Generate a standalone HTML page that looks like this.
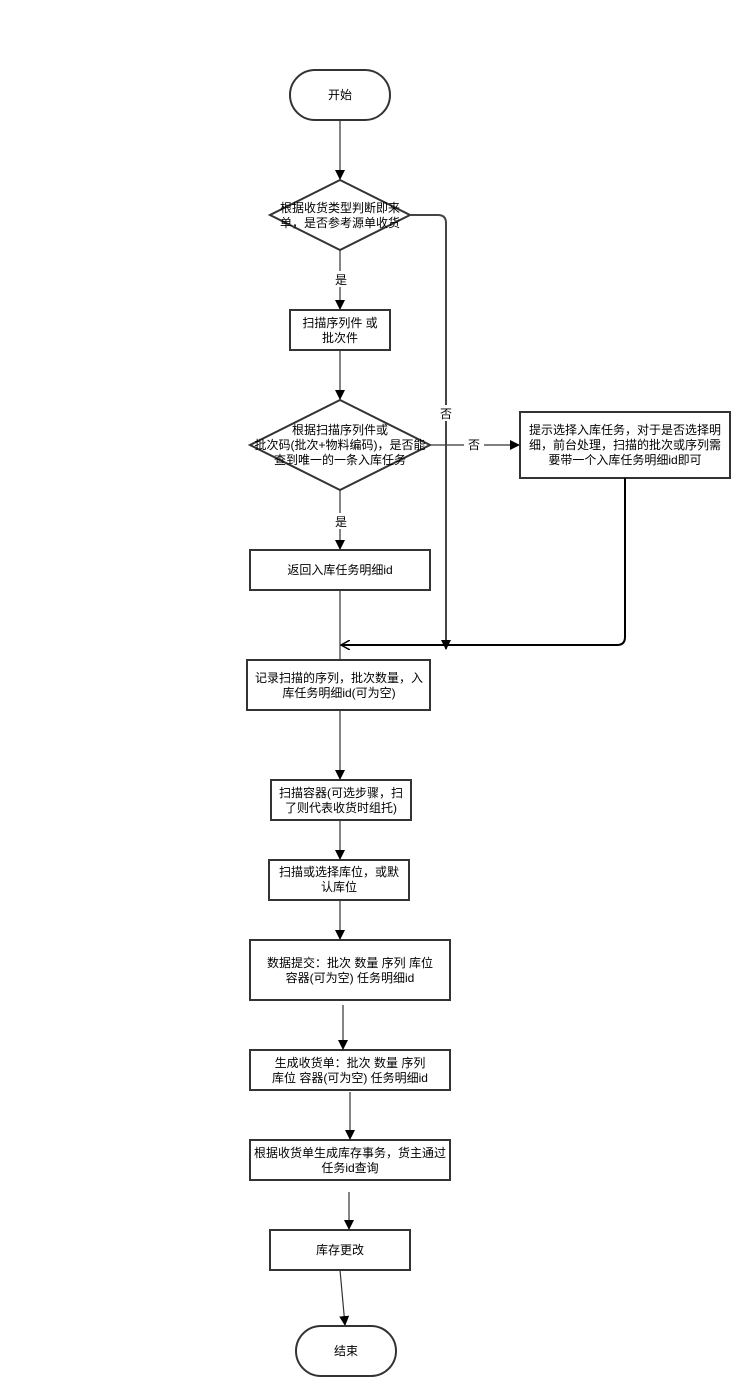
<!DOCTYPE html>
<html><head><meta charset="utf-8"><style>
html,body{margin:0;padding:0;background:#fff;}
svg{display:block;}
text{font-family:"Liberation Sans","Noto Sans CJK SC",sans-serif;font-size:12px;fill:#000;}
</style></head><body>
<svg width="750" height="1396" viewBox="0 0 750 1396" xmlns="http://www.w3.org/2000/svg">
<defs>
<marker id="a" markerWidth="10" markerHeight="10" refX="9" refY="5" orient="auto" markerUnits="userSpaceOnUse"><path d="M0,0 L10,5 L0,10 z" fill="#000"/></marker>
<marker id="o" markerWidth="10" markerHeight="10" refX="9" refY="5" orient="auto" markerUnits="userSpaceOnUse"><path d="M0,0 L9,5 L0,10" fill="none" stroke="#000" stroke-width="1.5"/></marker>
</defs>
<g fill="#fff" stroke="#333" stroke-width="2">
<rect x="290" y="70" width="100" height="50" rx="25"/>
<polygon points="340,180 410,215 340,250 270,215"/>
<rect x="290" y="310" width="100" height="40"/>
<polygon points="340,400 430,445 340,490 250,445"/>
<rect x="520" y="412" width="210" height="66"/>
<rect x="250" y="550" width="180" height="40"/>
<rect x="247" y="660" width="183" height="50"/>
<rect x="271" y="780" width="140" height="40"/>
<rect x="269" y="860" width="140" height="40"/>
<rect x="250" y="940" width="200" height="60"/>
<rect x="250" y="1050" width="200" height="40"/>
<rect x="250" y="1140" width="200" height="40"/>
<rect x="270" y="1230" width="140" height="40"/>
<rect x="296" y="1326" width="100" height="50" rx="25"/>
</g>
<g fill="none" stroke="#333" stroke-width="1.2">
<line x1="340" y1="120" x2="340" y2="179" marker-end="url(#a)"/>
<line x1="340" y1="250" x2="340" y2="309" marker-end="url(#a)"/>
<line x1="340" y1="350" x2="340" y2="399" marker-end="url(#a)"/>
<line x1="340" y1="490" x2="340" y2="549" marker-end="url(#a)"/>
<line x1="430" y1="445" x2="519" y2="445" marker-end="url(#a)"/>
<line x1="340" y1="590" x2="340" y2="660"/>
<line x1="340" y1="710" x2="340" y2="779" marker-end="url(#a)"/>
<line x1="340" y1="820" x2="340" y2="859" marker-end="url(#a)"/>
<line x1="340" y1="900" x2="340" y2="939" marker-end="url(#a)"/>
<line x1="343" y1="1005" x2="343" y2="1049" marker-end="url(#a)"/>
<line x1="350" y1="1092" x2="350" y2="1139" marker-end="url(#a)"/>
<line x1="349" y1="1192" x2="349" y2="1229" marker-end="url(#a)"/>
<line x1="340" y1="1270" x2="345" y2="1325" marker-end="url(#a)"/>
</g>
<path d="M410,215 L438,215 Q446,215 446,223 L446,649" fill="none" stroke="#444" stroke-width="2" marker-end="url(#a)"/>
<path d="M625,478 L625,637 Q625,645 617,645 L341,645" fill="none" stroke="#000" stroke-width="2" marker-end="url(#o)"/>
<rect x="438" y="405" width="16" height="16" fill="#fff"/>
<text x="446" y="418" text-anchor="middle">否</text>
<rect x="464" y="437" width="20" height="16" fill="#fff"/>
<text x="474" y="449" text-anchor="middle">否</text>
<rect x="332" y="271" width="16" height="16" fill="#fff"/>
<text x="341" y="284" text-anchor="middle">是</text>
<rect x="332" y="513" width="16" height="16" fill="#fff"/>
<text x="341" y="526" text-anchor="middle">是</text>
<g text-anchor="middle">
<text x="340" y="99">开始</text>
<text x="340" y="212">根据收货类型判断即来</text>
<text x="340" y="227">单，是否参考源单收货</text>
<text x="340" y="327">扫描序列件 或</text>
<text x="340" y="342">批次件</text>
<text x="340" y="434">根据扫描序列件或</text>
<text x="340" y="449">批次码(批次+物料编码)，是否能</text>
<text x="340" y="464">查到唯一的一条入库任务</text>
<text x="625" y="434">提示选择入库任务，对于是否选择明</text>
<text x="625" y="449">细，前台处理，扫描的批次或序列需</text>
<text x="625" y="464">要带一个入库任务明细id即可</text>
<text x="340" y="574">返回入库任务明细id</text>
<text x="339" y="682">记录扫描的序列，批次数量，入</text>
<text x="339" y="697">库任务明细id(可为空)</text>
<text x="341" y="797">扫描容器(可选步骤，扫</text>
<text x="341" y="812">了则代表收货时组托)</text>
<text x="339" y="876">扫描或选择库位，或默</text>
<text x="339" y="891">认库位</text>
<text x="350" y="967">数据提交：批次 数量   序列   库位</text>
<text x="350" y="982">容器(可为空)   任务明细id</text>
<text x="350" y="1067">生成收货单：批次 数量   序列</text>
<text x="350" y="1082">库位   容器(可为空)   任务明细id</text>
<text x="350" y="1157">根据收货单生成库存事务，货主通过</text>
<text x="350" y="1172">任务id查询</text>
<text x="340" y="1254">库存更改</text>
<text x="346" y="1355">结束</text>
</g>
</svg>
</body></html>
